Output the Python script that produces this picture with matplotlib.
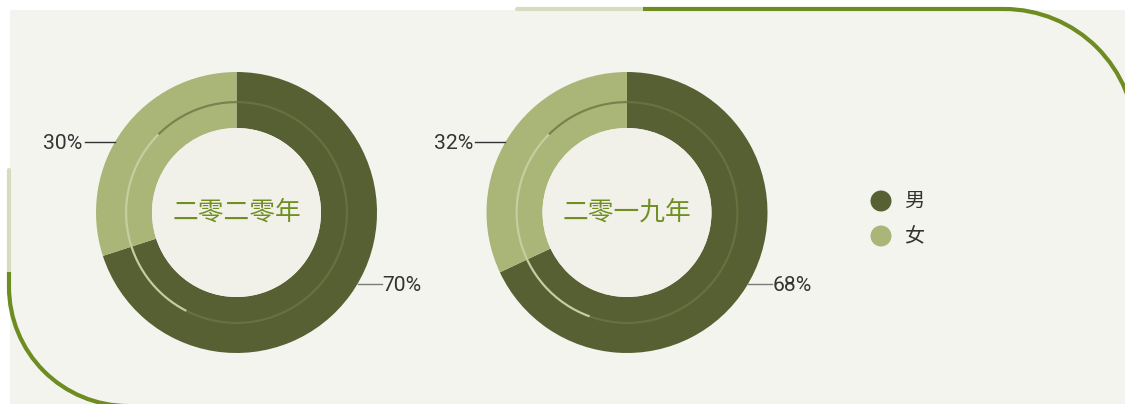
import matplotlib
matplotlib.use("Agg")
import matplotlib.pyplot as plt
import numpy as np
from matplotlib.patches import Rectangle, Circle, Arc
from matplotlib.lines import Line2D

plt.rcParams['font.family'] = ['Noto Sans CJK SC', 'DejaVu Sans']

# ---- data ----
years = ["二零二零年", "二零一九年"]
categories = ["男", "女"]
male_pct = [70, 68]
female_pct = [30, 32]

# ---- style ----
W, H = 1125, 404
DARK = "#566033"
LIGHT = "#A9B678"
BG = "#F4F4EE"
GREEN = "#6E8C22"
PALE = "#D6DCBD"
TXT = "#333333"
NUMFONT = ["Roboto", "DejaVu Sans"]

fig = plt.figure(figsize=(W / 100, H / 100), dpi=100)
fig.patch.set_facecolor("white")
ax = fig.add_axes([0, 0, 1, 1])

def Y(y):  # image y (top-down) -> axes y (bottom-up)
    return H - y

centers = [(236.5, Y(212.5)), (627.0, Y(212.5))]
R_OUT, WIDTH = 140.5, 56
R_THIN = 111.5

# background panel
ax.add_patch(Rectangle((10, 0), W - 10, H - 10, facecolor=BG, edgecolor="none", zorder=0))

for i, (cx, cy) in enumerate(centers):
    vals = [male_pct[i], female_pct[i]]
    ax.pie(vals, colors=[DARK, LIGHT], startangle=90, counterclock=False,
           radius=R_OUT, center=(cx, cy),
           wedgeprops=dict(width=WIDTH, edgecolor="none", linewidth=0))
    # inner filled hole
    ax.add_patch(Circle((cx, cy), R_OUT - WIDTH, facecolor="#F1F1E9", edgecolor="none", zorder=3))
    # thin inner ring, rotated by 45 degrees
    wedges, _ = ax.pie(vals, colors=["#6B7742", "#C4CEA0"], startangle=135, counterclock=False,
                       radius=R_THIN, center=(cx, cy),
                       wedgeprops=dict(width=2.2, edgecolor="none", linewidth=0))
    wedges[0].set_alpha(0.8)
    for w in wedges:
        w.set_zorder(4)
    # center title
    ax.text(cx, cy, years[i], ha="center", va="center", fontsize=18.5,
            color="#6F8F23", zorder=5)
    # leader lines and labels
    a_f = np.deg2rad(150.1)
    x0, y0 = cx + R_OUT * np.cos(a_f), cy + R_OUT * np.sin(a_f)
    ax.add_line(Line2D([x0, x0 - 30], [y0, y0], color="#333333", lw=1.0, zorder=5))
    ax.text(x0 - 32, y0 - 7.0, f"{female_pct[i]}%", ha="right", va="baseline",
            fontsize=15.2, color=TXT, family=NUMFONT, zorder=5)
    a_m = np.deg2rad(-30.4)
    x1, y1 = cx + R_OUT * np.cos(a_m), cy + R_OUT * np.sin(a_m)
    ax.add_line(Line2D([x1, x1 + 24], [y1, y1], color="#7A7A7A", lw=1.0, zorder=5))
    ax.text(x1 + 24.5, y1 - 7.5, f"{male_pct[i]}%", ha="left", va="baseline",
            fontsize=15.2, color=TXT, family=NUMFONT, zorder=5)

# legend
for j, (lab, col) in enumerate(zip(categories, [DARK, LIGHT])):
    ly = Y(201 + 35 * j)
    ax.add_patch(Circle((881, ly), 10.5, facecolor=col, edgecolor="none", zorder=5))
    ax.text(904, ly, lab, ha="left", va="center", fontsize=14.5, color=TXT, zorder=5)

# decorative frame lines
LW = 3.0
# top-right
ax.add_line(Line2D([517, 643], [Y(9), Y(9)], color=PALE, lw=LW, solid_capstyle="round", zorder=6))
ax.add_line(Line2D([643, 1004], [Y(9), Y(9)], color=GREEN, lw=LW, solid_capstyle="butt", zorder=6))
ax.add_patch(Arc((1004, Y(140.5)), 2 * 131.5, 2 * 131.5, theta1=0, theta2=90,
                 color=GREEN, lw=LW, zorder=6))
# bottom-left
ax.add_line(Line2D([9, 9], [Y(170), Y(272)], color=PALE, lw=LW, solid_capstyle="round", zorder=6))
ax.add_line(Line2D([9, 9], [Y(272), Y(287)], color=GREEN, lw=LW, solid_capstyle="butt", zorder=6))
ax.add_patch(Arc((128, Y(287)), 2 * 119, 2 * 119, theta1=180, theta2=270,
                 color=GREEN, lw=LW, zorder=6))

ax.set_xlim(0, W)
ax.set_ylim(0, H)
ax.set_aspect("auto")
ax.axis("off")

fig.savefig("out.png", dpi=100, facecolor="white")
